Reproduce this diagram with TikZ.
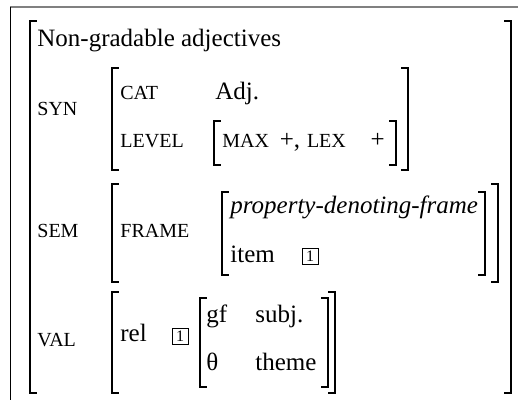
\documentclass[tikz,border=0pt]{standalone}
\usepackage{fontspec}
\setmainfont{Liberation Serif}
\usetikzlibrary{positioning}
\newcommand\fsc{\fontsize{10}{11}\selectfont}
\newcommand\lbrk[3]{\draw[brk] (#1+6,#2) -- (#1,#2) -- (#1,#3) -- (#1+6,#3);}
\newcommand\rbrk[3]{\draw[brk] (#1-6,#2) -- (#1,#2) -- (#1,#3) -- (#1-6,#3);}
\tikzset{
    brk/.style={line width=0.8pt,line cap=rect},
    feat/.style={anchor=base west,inner sep=0pt,font=\fsc},
    val/.style={anchor=base west,inner sep=0pt},
    tag/.style={draw,line width=0.4pt,inner sep=0pt,minimum size=8pt,font=\fontsize{8}{9}\selectfont},
}
\begin{document}
\begin{tikzpicture}[x=0.5pt,y=-0.5pt,every node/.style={font=\fontsize{12.5}{14}\selectfont}]
\useasboundingbox (0,0) rectangle (518,400);
% frame
\draw[gray,line width=0.6pt] (10,7) -- (518,7);
\draw[line width=0.5pt] (10,7) -- (10,400);

% outer matrix
\lbrk{30}{21}{393}
\rbrk{511}{21}{393}
\node[val] (title) at (37,47) {Non-gradable adjectives};

% SYN
\node[feat] (syn) at (37,116) {SYN};
\lbrk{112}{68}{170}
\rbrk{408}{68}{170}
\node[feat] (cat) at (120,100) {CAT};
\node[val]  (adj) at (215,100) {Adj.};
\node[feat] (level) at (120,148) {LEVEL};
\lbrk{214}{121}{165}
\rbrk{396}{121}{165}
\node[feat] (max) at (222,148) {MAX};
\node[val,base right=5pt of max]  (maxv) {+,};
\node[feat,base right=3pt of maxv] (lex) {LEX};
\node[val,base right=12pt of lex]  (lexv) {+};

% SEM
\node[feat] (sem) at (37,238) {SEM};
\lbrk{112}{184}{282}
\rbrk{498}{184}{282}
\node[feat] (frame) at (120,238) {FRAME};
\lbrk{222}{192}{275}
\rbrk{485}{192}{275}
\node[val] (pdf) at (230,214) {\itshape property-denoting-frame};
\node[val] (item) at (230,263) {item};
\node[tag] (tagi) at (310,256) {1};

% VAL
\node[feat] (valf) at (37,346) {VAL};
\lbrk{112}{292}{393}
\rbrk{335}{292}{393}
\node[val] (rel) at (120,341) {rel};
\node[tag] (tagr) at (180,336) {1};
\lbrk{200}{298}{387}
\rbrk{328}{298}{387}
\node[val] (gf) at (206,322) {gf};
\node[val] (subj) at (255,322) {subj.};
\node[val] (theta) at (206,370) {θ};
\node[val] (theme) at (255,370) {theme};
\end{tikzpicture}
\end{document}
